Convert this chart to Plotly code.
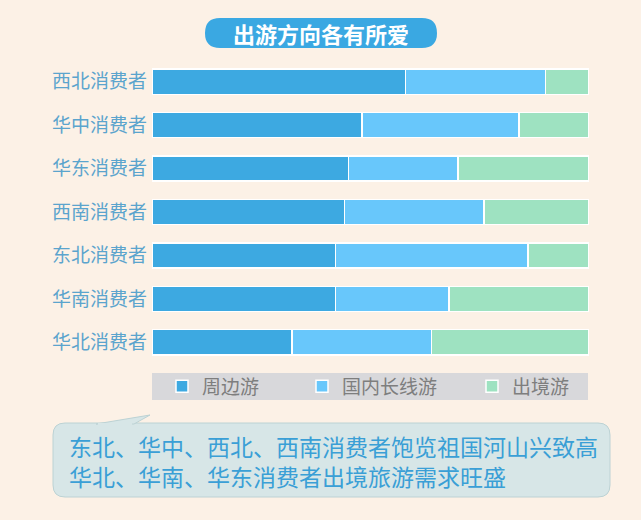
import plotly.graph_objects as go

# 各地区消费者出游方向占比（%）
regions = ["西北消费者", "华中消费者", "华东消费者", "西南消费者", "东北消费者", "华南消费者", "华北消费者"]
nearby = [58, 48, 45, 44, 42, 42, 32]        # 周边游
domestic = [32, 36, 25, 32, 44, 26, 32]      # 国内长线游
abroad = [10, 16, 30, 24, 14, 32, 36]        # 出境游

series_names = ["周边游", "国内长线游", "出境游"]
series_colors = ["#3DA9E1", "#68C7FB", "#9EE2C1"]

title_text = "出游方向各有所爱"
note_lines = ["东北、华中、西北、西南消费者饱览祖国河山兴致高",
              "华北、华南、华东消费者出境旅游需求旺盛"]

W, H = 641, 520
L, R, T, B = 152, 52, 60, 156
FONT = "Noto Sans CJK SC"


def px(x):
    return (x - L) / (W - L - R)


def py(y):
    return (H - B - y) / (H - T - B)


def round_rect(x0, y0, x1, y1, r):
    # rounded rectangle path in paper coords, from a pixel box
    a, b, c, d = px(x0), px(x1), py(y0), py(y1)
    rx = r / (W - L - R)
    ry = r / (H - T - B)
    return (f"M {a + rx},{c} L {b - rx},{c} Q {b},{c} {b},{c - ry} "
            f"L {b},{d + ry} Q {b},{d} {b - rx},{d} L {a + rx},{d} "
            f"Q {a},{d} {a},{d + ry} L {a},{c - ry} Q {a},{c} {a + rx},{c} Z")


legend_ids = ["legend", "legend2", "legend3"]
legend_x = [162, 302, 472]   # left edge of each legend item, px

fig = go.Figure()
for name, vals, col, lg in zip(series_names, [nearby, domestic, abroad], series_colors, legend_ids):
    fig.add_trace(go.Bar(y=regions, x=vals, name=name, orientation="h", legend=lg,
                         marker=dict(color=col, line=dict(color="white", width=1.5))))

shapes = [
    # title pill
    dict(type="path", xref="paper", yref="paper", path=round_rect(205, 18, 437, 48, 15),
         fillcolor="#3AA8E2", line=dict(width=0), layer="below"),
    # legend strip
    dict(type="rect", xref="paper", yref="paper", x0=px(152), x1=px(588), y0=py(373), y1=py(400),
         fillcolor="#D8D8DB", line=dict(width=0), layer="below"),
    # callout box
    dict(type="path", xref="paper", yref="paper", path=round_rect(53, 423, 610, 497, 12),
         fillcolor="#D7E6E7", line=dict(color="#BCD2D4", width=1), layer="below"),
    # callout tail
    dict(type="path", xref="paper", yref="paper",
         path=f"M {px(96)},{py(424)} L {px(150)},{py(415)} L {px(134)},{py(424)} Z",
         fillcolor="#D7E6E7", line=dict(color="#BCD2D4", width=1), layer="below"),
    dict(type="line", xref="paper", yref="paper", x0=px(98), x1=px(132), y0=py(424), y1=py(424),
         line=dict(color="#D7E6E7", width=2), layer="below"),
]

annotations = [
    dict(text=f"<b>{title_text}</b>", x=px(321), y=py(33), xref="paper", yref="paper",
         showarrow=False, xanchor="center", yanchor="middle",
         font=dict(family=FONT, size=22, color="white")),
    dict(text="<br>".join(note_lines), x=px(67), y=py(461), xref="paper", yref="paper",
         showarrow=False, xanchor="left", yanchor="middle", align="left",
         font=dict(family=FONT, size=23, color="#3A9FD6")),
]

legend_style = dict(orientation="h", yanchor="middle", xanchor="left", y=py(386.5),
                    bgcolor="rgba(0,0,0,0)", itemwidth=30,
                    font=dict(family=FONT, size=19, color="#7E7E7E"))

fig.update_layout(
    width=W, height=H,
    margin=dict(l=L, r=R, t=T, b=B),
    paper_bgcolor="#FCF1E6", plot_bgcolor="#FCF1E6",
    barmode="stack", bargap=0.42,
    font=dict(family=FONT),
    xaxis=dict(range=[0, 100], visible=False, fixedrange=True),
    yaxis=dict(categoryorder="array", categoryarray=regions, autorange="reversed",
               showgrid=False, zeroline=False, showline=False, ticks="",
               ticklabelstandoff=4,
               tickfont=dict(family=FONT, size=19, color="#5BA4CD")),
    legend=dict(legend_style, x=px(legend_x[0])),
    legend2=dict(legend_style, x=px(legend_x[1])),
    legend3=dict(legend_style, x=px(legend_x[2])),
    shapes=shapes,
    annotations=annotations,
    showlegend=True,
)

fig.write_html("out.html", config={"displayModeBar": False},
               post_script="document.body.style.margin='0';")
